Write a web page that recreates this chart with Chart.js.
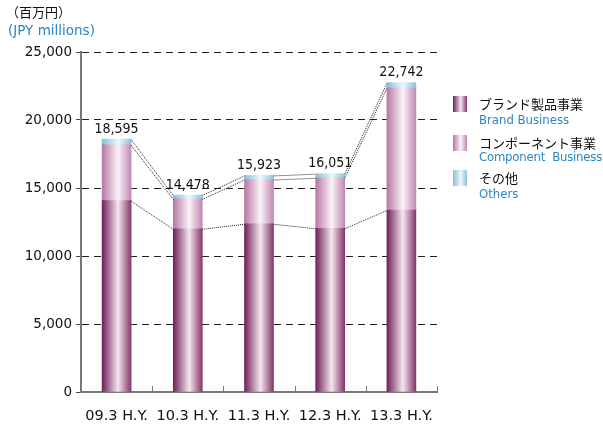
<!DOCTYPE html>
<html>
<head>
<meta charset="utf-8">
<script src="https://cdn.jsdelivr.net/npm/chart.js@4"></script>
<style>
  body { margin: 0; background: #fff; }
  #wrap { position: relative; width: 603px; height: 426px; }
  .unit { position: absolute; white-space: nowrap; }
  .jp { font-family: "Noto Sans CJK JP", sans-serif; color: #111; font-size: 13px; }
  .en { font-family: "DejaVu Sans Condensed", "DejaVu Sans", sans-serif; color: #2a86c4; font-size: 13px; }
  .box { position: absolute; left: 453px; width: 14px; height: 16px; }
</style>
</head>
<body>
<div id="wrap">
  <canvas id="chart" width="603" height="426"></canvas>
  <div class="unit jp" style="left:6px; top:2px;">（百万円）</div>
  <div class="unit en" style="left:8px; top:22px; font-family:'DejaVu Sans'; font-size:13.5px;">(JPY millions)</div>

  <div class="box" style="top:96px; background:linear-gradient(to right,#70205a,#f3e6ee 55%,#86366c);"></div>
  <div class="unit jp" style="left:479px; top:94px;">ブランド製品事業</div>
  <div class="unit en" style="left:479px; top:112px;">Brand Business</div>

  <div class="box" style="top:135px; background:linear-gradient(to right,#b878a5,#fbf3f8 55%,#c088b3);"></div>
  <div class="unit jp" style="left:479px; top:133px;">コンポーネント事業</div>
  <div class="unit en" style="left:479px; top:149px; letter-spacing:-0.2px;">Component&nbsp; Business</div>

  <div class="box" style="top:170px; background:linear-gradient(to right,#86bedb,#eef7fb 55%,#8cc3dc);"></div>
  <div class="unit jp" style="left:479px; top:168px;">その他</div>
  <div class="unit en" style="left:479px; top:186px;">Others</div>
</div>
<script>
const categories = ['09.3 H.Y.', '10.3 H.Y.', '11.3 H.Y.', '12.3 H.Y.', '13.3 H.Y.'];
const brand = [14070, 12000, 12370, 12040, 13380];
const component = [4110, 2200, 3250, 3710, 8990];
const others = [415, 278, 303, 301, 372];
const totals = [18595, 14478, 15923, 16051, 22742];
const yTicks = [0, 5000, 10000, 15000, 20000, 25000];

const BAR_W = 29;

function barGradient(stops) {
    return function (context) {
        const chart = context.chart;
        if (!chart.chartArea || context.dataIndex === undefined) return stops[0];
        const x = chart.scales.x.getPixelForValue(context.dataIndex);
        const g = chart.ctx.createLinearGradient(x - BAR_W / 2, 0, x + BAR_W / 2, 0);
        g.addColorStop(0, stops[0]);
        g.addColorStop(0.55, stops[1]);
        g.addColorStop(1, stops[2]);
        return g;
    };
}

// dotted lines between bar segment tops, totals above bars, small x ticks
const extras = {
    id: 'extras',
    afterDatasetsDraw(chart) {
        const ctx = chart.ctx;
        ctx.save();
        ctx.strokeStyle = '#222';
        ctx.lineWidth = 1;
        ctx.setLineDash([1, 1]);
        chart.data.datasets.forEach((ds, d) => {
            const bars = chart.getDatasetMeta(d).data;
            for (let i = 0; i < bars.length - 1; i++) {
                const a = bars[i], b = bars[i + 1];
                ctx.beginPath();
                ctx.moveTo(a.x + a.width / 2, a.y + 0.5);
                ctx.lineTo(b.x - b.width / 2, b.y + 0.5);
                ctx.stroke();
            }
        });
        ctx.setLineDash([]);

        const top = chart.getDatasetMeta(2).data;
        ctx.fillStyle = '#111';
        ctx.font = '14px "DejaVu Sans Condensed", "DejaVu Sans"';
        ctx.textAlign = 'center';
        ctx.textBaseline = 'bottom';
        top.forEach((bar, i) => {
            ctx.fillText(totals[i].toLocaleString('en-US'), bar.x, bar.y - 3);
        });

        const xs = chart.scales.x;
        const step = xs.getPixelForValue(1) - xs.getPixelForValue(0);
        const bottom = chart.chartArea.bottom;
        ctx.strokeStyle = '#777';
        ctx.lineWidth = 1;
        for (let i = 0; i < categories.length; i++) {
            const px = Math.round(xs.getPixelForValue(i) + step / 2) + 0.5;
            ctx.beginPath();
            ctx.moveTo(px, bottom);
            ctx.lineTo(px, bottom - 6);
            ctx.stroke();
        }
        ctx.restore();
    }
};

new Chart(document.getElementById('chart'), {
    type: 'bar',
    data: {
        labels: categories,
        datasets: [
            { label: 'Brand Business', data: brand,
              backgroundColor: barGradient(['#70205a', '#f3e6ee', '#86366c']) },
            { label: 'Component Business', data: component,
              backgroundColor: barGradient(['#b878a5', '#fbf3f8', '#c088b3']) },
            { label: 'Others', data: others,
              backgroundColor: barGradient(['#86bedb', '#eef7fb', '#8cc3dc']) }
        ]
    },
    options: {
        responsive: false,
        animation: false,
        layout: { padding: { top: 52, right: 166, bottom: 0, left: 0 } },
        datasets: { bar: { barThickness: BAR_W, borderWidth: 0 } },
        plugins: { legend: { display: false }, tooltip: { enabled: false } },
        scales: {
            x: {
                stacked: true,
                afterFit(scale) { scale.height = 34; },
                grid: { display: false },
                border: { color: '#777', width: 2 },
                ticks: { color: '#111', padding: 8, maxRotation: 0,
                         font: { family: 'DejaVu Sans', size: 14.5 } }
            },
            y: {
                stacked: true,
                min: 0,
                max: 25000,
                afterFit(scale) { scale.width = 81; },
                afterBuildTicks(scale) { scale.ticks = yTicks.map(v => ({ value: v })); },
                grid: {
                    color: ctx => ctx.tick && ctx.tick.value === 0 ? 'rgba(0,0,0,0)' : '#222',
                    tickColor: '#444',
                    tickLength: 5,
                    tickBorderDash: [],
                    lineWidth: 1
                },
                border: { color: '#777', width: 2, dash: [7, 5] },
                ticks: {
                    color: '#111',
                    padding: 4,
                    font: { family: 'DejaVu Sans', size: 13.5 },
                    callback: v => v.toLocaleString('en-US')
                }
            }
        }
    },
    plugins: [extras]
});
</script>
</body>
</html>
